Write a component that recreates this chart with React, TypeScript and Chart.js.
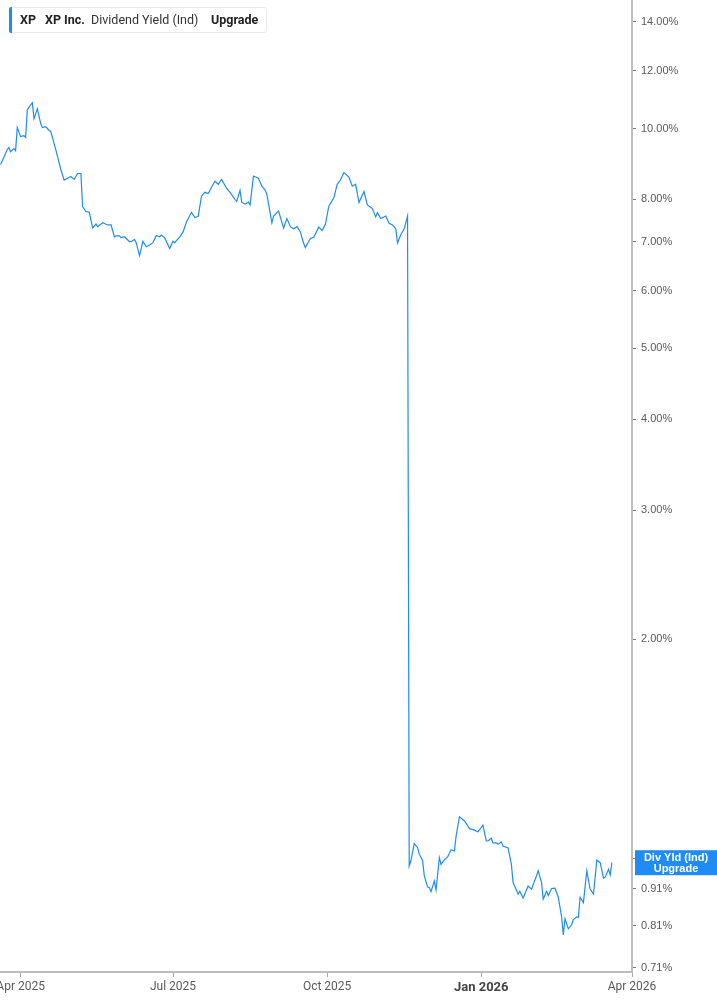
import React, { useEffect, useRef } from 'react';
import { Chart, registerables } from 'chart.js';

Chart.register(...registerables);

const dates: string[] = [
  '2025-03-20','2025-03-22','2025-03-24','2025-03-25','2025-03-26','2025-03-28','2025-03-29','2025-03-30',
  '2025-04-01','2025-04-03','2025-04-04','2025-04-05','2025-04-07','2025-04-08','2025-04-09','2025-04-11',
  '2025-04-13','2025-04-14','2025-04-16','2025-04-18','2025-04-19','2025-04-22','2025-04-25','2025-04-27',
  '2025-04-29','2025-05-01','2025-05-03','2025-05-05','2025-05-07','2025-05-08','2025-05-10','2025-05-12',
  '2025-05-14','2025-05-16','2025-05-17','2025-05-20','2025-05-23','2025-05-25','2025-05-27','2025-05-28',
  '2025-05-30','2025-05-31','2025-06-02','2025-06-05','2025-06-06','2025-06-08','2025-06-09','2025-06-11',
  '2025-06-13','2025-06-15','2025-06-17','2025-06-19','2025-06-21','2025-06-23','2025-06-24','2025-06-26',
  '2025-06-29','2025-07-01','2025-07-02','2025-07-05','2025-07-07','2025-07-09','2025-07-12','2025-07-14',
  '2025-07-16','2025-07-18','2025-07-20','2025-07-22','2025-07-24','2025-07-26','2025-07-28','2025-07-30',
  '2025-08-02','2025-08-04','2025-08-07','2025-08-08','2025-08-10','2025-08-11','2025-08-13','2025-08-15',
  '2025-08-16','2025-08-18','2025-08-21','2025-08-23','2025-08-25','2025-08-26','2025-08-29','2025-08-30',
  '2025-09-02','2025-09-05','2025-09-07','2025-09-09','2025-09-11','2025-09-13','2025-09-15','2025-09-17',
  '2025-09-18','2025-09-21','2025-09-23','2025-09-26','2025-09-28','2025-09-30','2025-10-02','2025-10-05',
  '2025-10-07','2025-10-09','2025-10-11','2025-10-14','2025-10-16','2025-10-18','2025-10-20','2025-10-23',
  '2025-10-25','2025-10-28','2025-10-30','2025-10-31','2025-11-02','2025-11-05','2025-11-07','2025-11-09',
  '2025-11-11','2025-11-12','2025-11-14','2025-11-16','2025-11-18',
  '2025-11-19','2025-11-20','2025-11-22','2025-11-24','2025-11-25','2025-11-27','2025-11-28','2025-11-30',
  '2025-12-01','2025-12-02','2025-12-04','2025-12-05','2025-12-07','2025-12-08','2025-12-10','2025-12-12',
  '2025-12-13','2025-12-14','2025-12-16','2025-12-17','2025-12-19','2025-12-22','2025-12-25','2025-12-28',
  '2025-12-30','2026-01-02','2026-01-04','2026-01-05','2026-01-07','2026-01-08','2026-01-10','2026-01-11',
  '2026-01-13','2026-01-14','2026-01-17','2026-01-19','2026-01-20','2026-01-23','2026-01-24','2026-01-26',
  '2026-01-29','2026-01-31','2026-02-03','2026-02-04','2026-02-06','2026-02-07','2026-02-09','2026-02-10',
  '2026-02-12','2026-02-14','2026-02-16','2026-02-18','2026-02-19','2026-02-20','2026-02-22','2026-02-24',
  '2026-02-25','2026-02-27','2026-02-28','2026-03-01','2026-03-03','2026-03-05','2026-03-07','2026-03-09',
  '2026-03-11','2026-03-13','2026-03-15','2026-03-16','2026-03-18','2026-03-19','2026-03-20',
];

const yields: number[] = [
  8.93, 9.13, 9.36, 9.42, 9.30, 9.39, 9.33, 10.03,
  9.75, 9.78, 9.72, 10.61, 10.78, 10.85, 10.32, 10.65,
  10.16, 10.03, 10.06, 9.94, 9.91, 9.36, 8.79, 8.50,
  8.55, 8.60, 8.52, 8.68, 8.68, 7.82, 7.70, 7.68,
  7.31, 7.40, 7.34, 7.43, 7.38, 7.38, 7.11, 7.13,
  7.13, 7.09, 7.11, 7.00, 7.00, 7.05, 6.98, 6.70,
  7.01, 6.89, 6.93, 6.98, 7.14, 7.11, 7.15, 7.09,
  6.85, 7.01, 6.98, 7.11, 7.22, 7.45, 7.68, 7.56,
  7.58, 8.08, 8.18, 8.15, 8.31, 8.47, 8.39, 8.52,
  8.28, 8.18, 8.00, 7.95, 8.23, 7.93, 7.88, 7.93,
  7.86, 8.61, 8.55, 8.34, 8.24, 8.13, 7.43, 7.59,
  7.71, 7.31, 7.53, 7.34, 7.29, 7.34, 7.22, 6.96,
  6.87, 7.07, 7.10, 7.33, 7.25, 7.40, 7.83, 8.04,
  8.39, 8.51, 8.71, 8.58, 8.34, 8.39, 7.92, 8.20,
  7.86, 7.77, 7.57, 7.67, 7.53, 7.59, 7.42, 7.38,
  7.29, 6.97, 7.16, 7.29, 7.59,
  0.978, 0.994, 1.049, 1.036, 1.015, 0.994, 0.948, 0.915,
  0.914, 0.902, 0.933, 0.907, 1.004, 0.983, 0.997, 1.007,
  1.018, 1.029, 1.025, 1.075, 1.142, 1.127, 1.100, 1.095,
  1.089, 1.112, 1.058, 1.058, 1.067, 1.052, 1.052, 1.047,
  1.055, 1.041, 1.035, 0.983, 0.928, 0.895, 0.903, 0.884,
  0.918, 0.909, 0.948, 0.963, 0.928, 0.881, 0.903, 0.891,
  0.911, 0.912, 0.886, 0.832, 0.787, 0.828, 0.802, 0.813,
  0.826, 0.833, 0.832, 0.886, 0.871, 0.963, 0.909, 0.895,
  0.996, 0.988, 0.941, 0.944, 0.968, 0.951, 0.988,
];

const yTicks: number[] = [0.71, 0.81, 0.91, 1.0, 2, 3, 4, 5, 6, 7, 8, 10, 12, 14];
const xTickDates: string[] = ['2025-04-01', '2025-07-01', '2025-10-01', '2026-01-01', '2026-04-01'];
const xTickLabels: string[] = ['Apr 2025', 'Jul 2025', 'Oct 2025', 'Jan 2026', 'Apr 2026'];
const boldTickLabel = 'Jan 2026';
const xRangeStart = '2025-03-19';
const xRangeEnd = '2026-04-01';
const yMin = 0.708;
const yMax = 15.0;

const legendTicker = 'XP';
const legendName = 'XP Inc.';
const legendMetric = 'Dividend Yield (Ind)';
const legendUpgrade = 'Upgrade';
const badgeLines: string[] = ['Div Yld (Ind)', 'Upgrade'];

const BLUE = '#1f8cf6';
const ORIGIN = Date.UTC(2025, 3, 1);
const toDay = (s: string): number => {
  const [y, m, d] = s.split('-').map(Number);
  return (Date.UTC(y, m - 1, d) - ORIGIN) / 86400000;
};

const badgePlugin = {
  id: 'badge',
  afterDraw(chart: any) {
    const { ctx, chartArea, scales } = chart;
    const last = yields[yields.length - 1];
    const y = scales.y.getPixelForValue(last);
    const left = chartArea.right + 3;
    const right = chart.width;
    ctx.save();
    ctx.fillStyle = BLUE;
    ctx.fillRect(left, y - 12.5, right - left, 25);
    ctx.fillStyle = '#ffffff';
    ctx.font = 'bold 11px "Liberation Sans", Arial, sans-serif';
    ctx.textAlign = 'center';
    ctx.textBaseline = 'middle';
    const cx = (left + right) / 2;
    ctx.fillText(badgeLines[0], cx, y - 5);
    ctx.fillText(badgeLines[1], cx, y + 6);
    ctx.restore();
  },
};

export default function App() {
  const canvasRef = useRef<HTMLCanvasElement | null>(null);

  useEffect(() => {
    const canvas = canvasRef.current;
    if (!canvas) return;
    const points = dates.map((d, i) => ({ x: toDay(d), y: yields[i] }));
    const xTickDays = xTickDates.map(toDay);
    const labelFor = (v: number): string => {
      const idx = xTickDays.findIndex((t) => Math.abs(t - v) < 0.01);
      return idx >= 0 ? xTickLabels[idx] : '';
    };

    const chart = new Chart(canvas, {
      type: 'line',
      data: {
        datasets: [
          {
            label: legendMetric,
            data: points,
            borderColor: BLUE,
            borderWidth: 1.2,
            pointRadius: 0,
            pointHoverRadius: 0,
            tension: 0,
            fill: false,
          },
        ],
      },
      options: {
        animation: false,
        responsive: false,
        devicePixelRatio: 1,
        layout: { padding: 0, autoPadding: false },
        plugins: { legend: { display: false }, tooltip: { enabled: false } },
        scales: {
          x: {
            type: 'linear',
            min: toDay(xRangeStart) + 0.7,
            max: toDay(xRangeEnd),
            afterBuildTicks: (s: any) => {
              s.ticks = xTickDays.map((v) => ({ value: v }));
            },
            afterFit: (s: any) => {
              s.height = 33;
              s.paddingLeft = 0;
              s.paddingRight = 0;
            },
            grid: {
              display: true,
              drawOnChartArea: false,
              drawTicks: true,
              tickLength: 5,
              tickColor: '#a8a8a8',
              tickWidth: 1,
            },
            border: { display: true, color: '#bdbdbd', width: 2 },
            ticks: {
              autoSkip: false,
              maxRotation: 0,
              padding: 3,
              callback: (v: any) => labelFor(Number(v)),
              font: (ctx: any) => {
                const bold = ctx.tick && labelFor(ctx.tick.value) === boldTickLabel;
                return bold
                  ? { family: 'Roboto, sans-serif', size: 13, weight: 'bold' }
                  : { family: 'Roboto, sans-serif', size: 12 };
              },
              color: (ctx: any) =>
                ctx.tick && labelFor(ctx.tick.value) === boldTickLabel ? '#444444' : '#5a5a5a',
            },
          },
          y: {
            type: 'logarithmic',
            position: 'right',
            min: yMin,
            max: yMax,
            afterBuildTicks: (s: any) => {
              s.ticks = yTicks.map((v) => ({ value: v }));
            },
            afterFit: (s: any) => {
              s.width = 85;
              s.paddingTop = 0;
              s.paddingBottom = 0;
            },
            grid: {
              display: true,
              drawOnChartArea: false,
              drawTicks: true,
              tickLength: 4,
              tickColor: '#777777',
              tickWidth: 1,
            },
            border: { display: true, color: '#bdbdbd', width: 2 },
            ticks: {
              autoSkip: false,
              padding: 5,
              callback: (v: any) => Number(v).toFixed(2) + '%',
              font: { family: '"Liberation Sans", Arial, sans-serif', size: 11 },
              color: '#5a5a5a',
            },
          },
        },
      } as any,
      plugins: [badgePlugin],
    });

    return () => chart.destroy();
  }, []);

  return (
    <div style={{ position: 'absolute', left: 0, top: 0, width: 717, height: 1005, background: '#fff' }}>
      <canvas ref={canvasRef} width={717} height={1005} style={{ display: 'block', width: 717, height: 1005 }} />
      <div
        style={{
          position: 'absolute',
          left: 9,
          top: 7,
          width: 258,
          height: 26,
          background: '#fff',
          border: '1px solid #e9e9e9',
          borderRadius: 3,
          boxSizing: 'border-box',
          fontFamily: 'Roboto, sans-serif',
          fontSize: 12.5,
          color: '#222',
          lineHeight: '24px',
        }}
      >
        <div style={{ position: 'absolute', left: -1, top: -1, width: 3, height: 26, background: BLUE, borderRadius: '2px 0 0 2px' }} />
        <span style={{ position: 'absolute', left: 10, fontWeight: 700 }}>{legendTicker}</span>
        <span style={{ position: 'absolute', left: 35, fontWeight: 700 }}>{legendName}</span>
        <span style={{ position: 'absolute', left: 81, fontWeight: 400, color: '#333' }}>{legendMetric}</span>
        <span style={{ position: 'absolute', left: 201, fontWeight: 700 }}>{legendUpgrade}</span>
      </div>
    </div>
  );
}
